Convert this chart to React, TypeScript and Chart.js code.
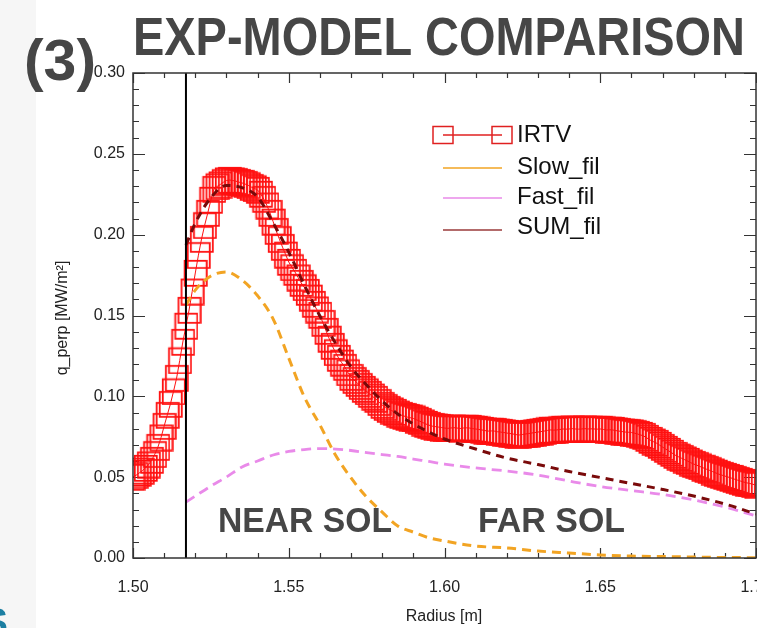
import React, { useEffect, useRef } from 'react';
import { Chart, registerables } from 'chart.js';

Chart.register(...registerables);

// ---------- data ----------
const irtvStart = 1.5;
const irtvStep = 0.001;
const irtvValues = [
  0.0501, 0.0512, 0.0526, 0.0540, 0.0557, 0.0578, 0.0606, 0.0642, 0.0686, 0.0745,
  0.0816, 0.0884, 0.0952, 0.1030, 0.1113, 0.1222, 0.1336, 0.1436, 0.1534, 0.1648,
  0.1763, 0.1873, 0.1973, 0.2058, 0.2134, 0.2215, 0.2282, 0.2298, 0.2310, 0.2324,
  0.2335, 0.2338, 0.2335, 0.2331, 0.2325, 0.2320, 0.2313, 0.2305, 0.2294, 0.2286,
  0.2276, 0.2252, 0.2220, 0.2180, 0.2134, 0.2080, 0.2022, 0.1972, 0.1923, 0.1876,
  0.1831, 0.1798, 0.1769, 0.1735, 0.1701, 0.1674, 0.1645, 0.1610, 0.1571, 0.1537,
  0.1503, 0.1453, 0.1404, 0.1356, 0.1311, 0.1272, 0.1237, 0.1208, 0.1181, 0.1148,
  0.1119, 0.1100, 0.1082, 0.1063, 0.1045, 0.1030, 0.1014, 0.0998, 0.0983, 0.0964,
  0.0946, 0.0933, 0.0921, 0.0912, 0.0903, 0.0893, 0.0884, 0.0878, 0.0872, 0.0868,
  0.0863, 0.0855, 0.0847, 0.0838, 0.0829, 0.0822, 0.0816, 0.0813, 0.0810, 0.0807,
  0.0804, 0.0802, 0.0804, 0.0806, 0.0804, 0.0801, 0.0804, 0.0805, 0.0804, 0.0800,
  0.0798, 0.0795, 0.0792, 0.0788, 0.0785, 0.0786, 0.0785, 0.0781, 0.0779, 0.0776,
  0.0773, 0.0770, 0.0767, 0.0763, 0.0761, 0.0764, 0.0767, 0.0770, 0.0773, 0.0776,
  0.0779, 0.0782, 0.0785, 0.0789, 0.0792, 0.0791, 0.0792, 0.0795, 0.0798, 0.0797,
  0.0798, 0.0800, 0.0798, 0.0797, 0.0798, 0.0800, 0.0798, 0.0799, 0.0798, 0.0797,
  0.0798, 0.0795, 0.0792, 0.0793, 0.0792, 0.0788, 0.0785, 0.0782, 0.0779, 0.0778,
  0.0776, 0.0772, 0.0767, 0.0761, 0.0754, 0.0742, 0.0730, 0.0720, 0.0711, 0.0699,
  0.0686, 0.0674, 0.0662, 0.0650, 0.0637, 0.0627, 0.0618, 0.0609, 0.0600, 0.0590,
  0.0581, 0.0574, 0.0566, 0.0558, 0.0550, 0.0543, 0.0535, 0.0527, 0.0519, 0.0513,
  0.0507, 0.0501, 0.0495, 0.0488, 0.0482, 0.0476, 0.0470, 0.0465, 0.0461, 0.0456,
  0.0451,
];
const irtvRadius = irtvValues.map((_, i) => +(irtvStart + i * irtvStep).toFixed(3));

const modelRadius = [
  1.517, 1.52, 1.525, 1.53, 1.535, 1.54, 1.545, 1.55, 1.555, 1.56, 1.565, 1.57, 1.575, 1.58,
  1.585, 1.59, 1.595, 1.6, 1.61, 1.62, 1.63, 1.64, 1.65, 1.66, 1.67, 1.68, 1.69, 1.7,
];
const slowValues = [
  0.1565, 0.1657, 0.1744, 0.1769, 0.1719, 0.1622, 0.1478, 0.1237, 0.0996, 0.0823, 0.0637,
  0.0495, 0.0377, 0.0284, 0.0198, 0.0160, 0.0125, 0.0105, 0.0074, 0.0062, 0.0043, 0.0031,
  0.0019, 0.0012, 0.0009, 0.0006, 0.0003, 0.0002,
];
const fastValues = [
  0.0346, 0.0383, 0.0445, 0.0501, 0.0563, 0.0600, 0.0637, 0.0659, 0.0671, 0.0677, 0.0674,
  0.0665, 0.0652, 0.0640, 0.0628, 0.0612, 0.0597, 0.0581, 0.0557, 0.0538, 0.0513, 0.0476,
  0.0442, 0.0417, 0.0393, 0.0359, 0.0315, 0.0260,
];
const sumValues = [
  0.1936, 0.2072, 0.2229, 0.2304, 0.2291, 0.2233, 0.2072, 0.1892, 0.1688, 0.1497, 0.1330,
  0.1181, 0.1070, 0.0971, 0.0891, 0.0829, 0.0779, 0.0736, 0.0674, 0.0618, 0.0578, 0.0535,
  0.0498, 0.0461, 0.0424, 0.0383, 0.0334, 0.0272,
];
const separatrixRadius = 1.517;

const legendLabels = ['IRTV', 'Slow_fil', 'Fast_fil', 'SUM_fil'];
const titleText = 'EXP-MODEL COMPARISON';
const panelText = '(3)';
const xTitle = 'Radius [m]';
const yTitle = 'q_perp [MW/m\u00B2]';
const regionLabels = ['NEAR SOL', 'FAR SOL'];

// ---------- styles ----------
const RED = '#ff1010';
const ORANGE = '#f2a423';
const VIOLET = '#e98ae9';
const DARKRED = '#7a0a0a';
const TEXT_GRAY = '#464646';
const FONT = "'Liberation Sans', Arial, Helvetica, sans-serif";

function makeBox(w: number, h: number, lw: number, color: string) {
  const c = document.createElement('canvas');
  c.width = w + lw * 2;
  c.height = h + lw * 2;
  const g = c.getContext('2d')!;
  g.strokeStyle = color;
  g.lineWidth = lw;
  g.strokeRect(lw, lw, w, h);
  return c;
}

function fitText(ctx: CanvasRenderingContext2D, text: string, font: string, left: number, baseline: number, width: number, color: string) {
  ctx.save();
  ctx.font = font;
  const w = ctx.measureText(text).width;
  ctx.translate(left, baseline);
  ctx.scale(width / w, 1);
  ctx.fillStyle = color;
  ctx.textAlign = 'left';
  ctx.textBaseline = 'alphabetic';
  ctx.fillText(text, 0, 0);
  ctx.restore();
}

const decorPlugin = {
  id: 'decor',
  beforeDraw(chart: any) {
    const ctx = chart.ctx as CanvasRenderingContext2D;
    ctx.save();
    ctx.fillStyle = '#ffffff';
    ctx.fillRect(0, 0, chart.width, chart.height);
    ctx.fillStyle = '#f6f6f6';
    ctx.fillRect(0, 0, 36, chart.height);
    ctx.restore();
  },
  beforeDatasetsDraw(chart: any) {
    const ctx = chart.ctx as CanvasRenderingContext2D;
    const a = chart.chartArea;
    const xs = chart.scales.x;
    const ys = chart.scales.y;
    ctx.save();
    ctx.strokeStyle = '#333';
    ctx.lineWidth = 1.2;
    ctx.beginPath();
    for (let k = 0; k <= 20; k++) {
      const px = Math.round(xs.getPixelForValue(1.5 + k * 0.01)) + 0.5;
      const L = k % 5 === 0 ? 10 : 5;
      ctx.moveTo(px, a.bottom);
      ctx.lineTo(px, a.bottom - L);
      ctx.moveTo(px, a.top);
      ctx.lineTo(px, a.top + L);
    }
    for (let k = 0; k <= 30; k++) {
      const py = Math.round(ys.getPixelForValue(k * 0.01)) + 0.5;
      const L = k % 5 === 0 ? 12 : 6;
      ctx.moveTo(a.left, py);
      ctx.lineTo(a.left + L, py);
      ctx.moveTo(a.right, py);
      ctx.lineTo(a.right - L, py);
    }
    ctx.stroke();
    ctx.restore();
  },
  afterDraw(chart: any) {
    const ctx = chart.ctx as CanvasRenderingContext2D;
    const a = chart.chartArea;
    ctx.save();
    // frame
    ctx.strokeStyle = '#333';
    ctx.lineWidth = 1.5;
    ctx.strokeRect(a.left, a.top, a.right - a.left, a.bottom - a.top);

    // titles
    fitText(ctx, titleText, `bold 53px ${FONT}`, 133, 55, 612, TEXT_GRAY);
    fitText(ctx, panelText, `bold 58px ${FONT}`, 24, 80, 72, TEXT_GRAY);
    fitText(ctx, regionLabels[0], `bold 35px ${FONT}`, 218, 532, 174, TEXT_GRAY);
    fitText(ctx, regionLabels[1], `bold 35px ${FONT}`, 478, 532, 147, TEXT_GRAY);

    // axis titles
    ctx.fillStyle = '#222';
    ctx.font = `16px ${FONT}`;
    ctx.textAlign = 'center';
    ctx.textBaseline = 'middle';
    ctx.fillText(xTitle, 444, 617);
    ctx.save();
    ctx.translate(63, 318);
    ctx.rotate(-Math.PI / 2);
    ctx.fillText(yTitle, 0, 0);
    ctx.restore();

    // legend
    const lx0 = 443, lx1 = 502, tx = 517;
    const rows = [135, 168, 198, 230];
    const baselines = [142, 174, 204, 234];
    ctx.strokeStyle = '#e02020';
    ctx.lineWidth = 1.3;
    ctx.beginPath();
    ctx.moveTo(lx0, rows[0]);
    ctx.lineTo(lx1, rows[0]);
    ctx.stroke();
    ctx.lineWidth = 1.5;
    ctx.strokeRect(lx0 - 10, rows[0] - 8.5, 20, 17);
    ctx.strokeRect(lx1 - 10, rows[0] - 8.5, 20, 17);
    const lcolors = [ORANGE, VIOLET, '#9a3a3a'];
    for (let i = 0; i < 3; i++) {
      ctx.strokeStyle = lcolors[i];
      ctx.lineWidth = 1.6;
      ctx.beginPath();
      ctx.moveTo(lx0, rows[i + 1]);
      ctx.lineTo(lx1, rows[i + 1]);
      ctx.stroke();
    }
    ctx.fillStyle = '#111';
    ctx.font = `24px ${FONT}`;
    ctx.textAlign = 'left';
    ctx.textBaseline = 'alphabetic';
    legendLabels.forEach((t, i) => ctx.fillText(t, tx, baselines[i]));

    // cut-off blue glyph at bottom-left
    ctx.font = `bold 40px ${FONT}`;
    ctx.fillStyle = '#1c7fa2';
    const sw = ctx.measureText('S').width;
    ctx.fillText('S', 8 - sw, 636);
    ctx.restore();
  },
};

export default function App() {
  const ref = useRef<HTMLCanvasElement>(null);

  useEffect(() => {
    if (!ref.current) return;
    const box = makeBox(22, 25, 1.8, RED);
    const pts = (xs: number[], ys: number[]) => xs.map((x, i) => ({ x, y: ys[i] }));
    const chart = new Chart(ref.current, {
      type: 'scatter',
      data: {
        datasets: [
          {
            label: 'separatrix',
            data: [
              { x: separatrixRadius, y: 0 },
              { x: separatrixRadius, y: 0.3 },
            ],
            showLine: true,
            borderColor: '#000',
            borderWidth: 2,
            pointRadius: 0,
            order: 0,
          },
          {
            label: legendLabels[3],
            data: pts(modelRadius, sumValues),
            showLine: true,
            borderColor: DARKRED,
            borderWidth: 3,
            borderDash: [8, 6],
            pointRadius: 0,
            cubicInterpolationMode: 'monotone',
            order: 1,
          },
          {
            label: legendLabels[2],
            data: pts(modelRadius, fastValues),
            showLine: true,
            borderColor: VIOLET,
            borderWidth: 2.8,
            borderDash: [10, 6],
            pointRadius: 0,
            cubicInterpolationMode: 'monotone',
            order: 2,
          },
          {
            label: legendLabels[1],
            data: pts(modelRadius, slowValues),
            showLine: true,
            borderColor: ORANGE,
            borderWidth: 3,
            borderDash: [9, 6],
            pointRadius: 0,
            cubicInterpolationMode: 'monotone',
            order: 3,
          },
          {
            label: legendLabels[0],
            data: pts(irtvRadius, irtvValues),
            showLine: true,
            borderColor: RED,
            borderWidth: 1,
            pointStyle: box as any,
            pointRadius: 11,
            clip: 0,
            order: 10,
          } as any,
        ],
      },
      options: {
        responsive: false,
        devicePixelRatio: 1,
        animation: false,
        events: [],
        layout: { autoPadding: false, padding: { top: 73, right: 1, left: 0, bottom: 0 } },
        plugins: { legend: { display: false }, tooltip: { enabled: false } },
        font: { family: FONT },
        scales: {
          x: {
            type: 'linear',
            position: 'bottom',
            min: 1.5,
            max: 1.7,
            afterFit: (s: any) => {
              s.height = 70;
              s.paddingLeft = 0;
              s.paddingRight = 0;
            },
            grid: { display: false, drawTicks: false },
            border: { display: false },
            ticks: {
              stepSize: 0.05,
              padding: 20,
              color: '#222',
              font: { size: 16, family: FONT },
              maxRotation: 0,
              autoSkip: false,
              callback: (v: any) => Number(v).toFixed(2),
            },
          },
          y: {
            type: 'linear',
            min: 0,
            max: 0.3,
            afterFit: (s: any) => {
              s.width = 133;
              s.paddingTop = 0;
              s.paddingBottom = 0;
            },
            grid: { display: false, drawTicks: false },
            border: { display: false },
            ticks: {
              stepSize: 0.05,
              padding: 8,
              color: '#222',
              font: { size: 16, family: FONT },
              callback: (v: any) => Number(v).toFixed(2),
            },
          },
        },
      } as any,
      plugins: [decorPlugin],
    });
    return () => chart.destroy();
  }, []);

  return (
    <div style={{ position: 'absolute', left: 0, top: 0, width: 757, height: 628 }}>
      <canvas ref={ref} width={757} height={628} style={{ display: 'block' }} />
    </div>
  );
}
